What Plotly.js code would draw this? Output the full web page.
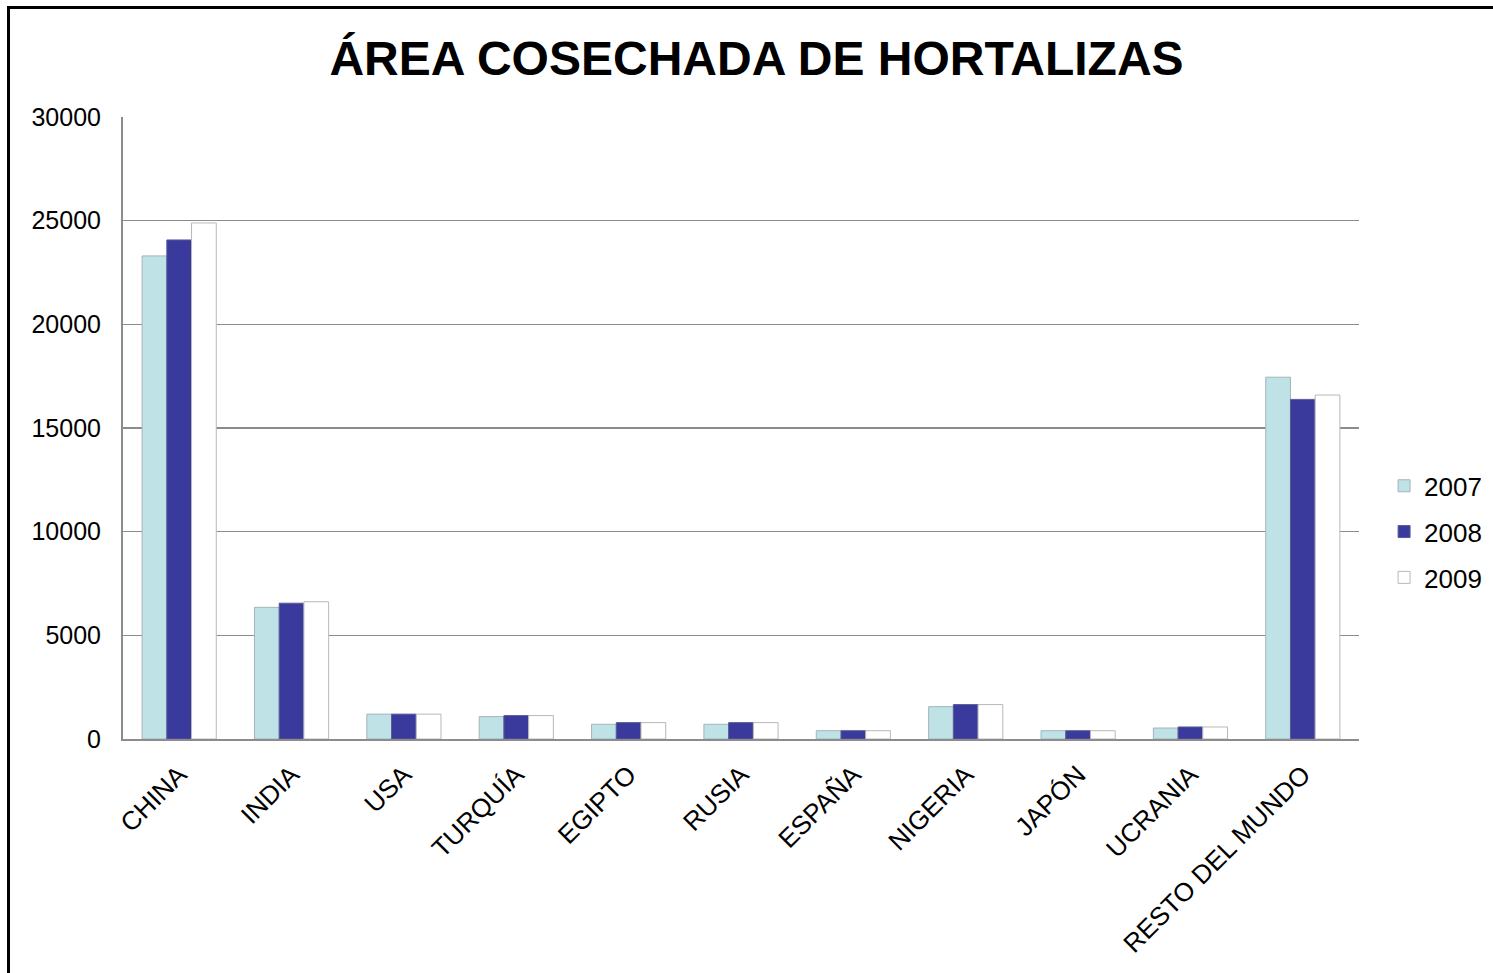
<!DOCTYPE html>
<html>
<head>
<meta charset="utf-8">
<script src="https://cdn.plot.ly/plotly-3.0.1.min.js"></script>
<style>
html,body{margin:0;padding:0;background:#fff;overflow:hidden;width:1493px;height:973px;}
#frame{position:absolute;left:7px;top:6px;width:1490px;height:970px;border-left:3px solid #000;border-top:3px solid #000;}
#chart{position:absolute;left:0;top:0;width:1493px;height:973px;}
</style>
</head>
<body>
<div id="frame"></div>
<div id="chart"></div>
<script>
var categories = ["CHINA","INDIA","USA","TURQUÍA","EGIPTO","RUSIA","ESPAÑA","NIGERIA","JAPÓN","UCRANIA","RESTO DEL MUNDO"];
var years = ["2007","2008","2009"];
var v2007 = [23300, 6350, 1200, 1080, 710, 710, 400, 1560, 400, 530, 17450];
var v2008 = [24070, 6550, 1200, 1130, 790, 790, 400, 1660, 400, 580, 16380];
var v2009 = [24890, 6620, 1200, 1130, 790, 790, 400, 1660, 400, 580, 16590];
var yTicks = [0, 5000, 10000, 15000, 20000, 25000, 30000];

var font = "Liberation Sans, Arial, sans-serif";
var series = [v2007, v2008, v2009];
var fills = ["#BEE2E5", "#3A3A9C", "#FFFFFF"];
var lines = ["#A4B4B6", "#5A5A9A", "#B8B8B8"];

var data = series.map(function(vals, i){
  return {
    type: "bar",
    name: years[i],
    legendgroup: "g" + i,
    x: categories,
    y: vals,
    marker: {color: fills[i], line: {color: lines[i], width: 1}},
    hoverinfo: "x+y+name"
  };
});

var layout = {
  width: 1493, height: 973,
  paper_bgcolor: "rgba(0,0,0,0)",
  plot_bgcolor: "rgba(0,0,0,0)",
  margin: {l: 123, r: 134, t: 117, b: 234, pad: 0, autoexpand: false},
  title: {
    text: "<b>ÁREA COSECHADA DE HORTALIZAS</b>",
    font: {family: font, size: 48, color: "#000"},
    x: 0.5067, xref: "container", xanchor: "center",
    y: 58, yref: "container", yanchor: "middle"
  },
  barmode: "group",
  bargap: 0.34,
  bargroupgap: 0,
  xaxis: {
    type: "category",
    tickangle: -45,
    tickfont: {family: font, size: 26, color: "#000"},
    ticklabelstandoff: 8,
    showline: true, linecolor: "#8c8c8c", linewidth: 2,
    showgrid: false, ticks: "", automargin: false
  },
  yaxis: {
    range: [0, 30000],
    tickvals: yTicks,
    ticktext: yTicks.map(String),
    tickfont: {family: font, size: 25, color: "#000"},
    ticklabelstandoff: 15,
    showgrid: true, gridcolor: "#8c8c8c", gridwidth: 1.5,
    showline: true, linecolor: "#8c8c8c", linewidth: 2,
    zeroline: false, ticks: "",
    automargin: false
  },
  legend: {
    x: 1.0203, y: 0.333, xanchor: "left", yanchor: "middle",
    font: {family: font, size: 26, color: "#000"},
    itemwidth: 30, traceorder: "grouped", tracegroupgap: 9,
    bgcolor: "rgba(0,0,0,0)"
  },
  showlegend: true
};

Plotly.newPlot("chart", data, layout, {displayModeBar: false, staticPlot: true});
</script>
</body>
</html>
